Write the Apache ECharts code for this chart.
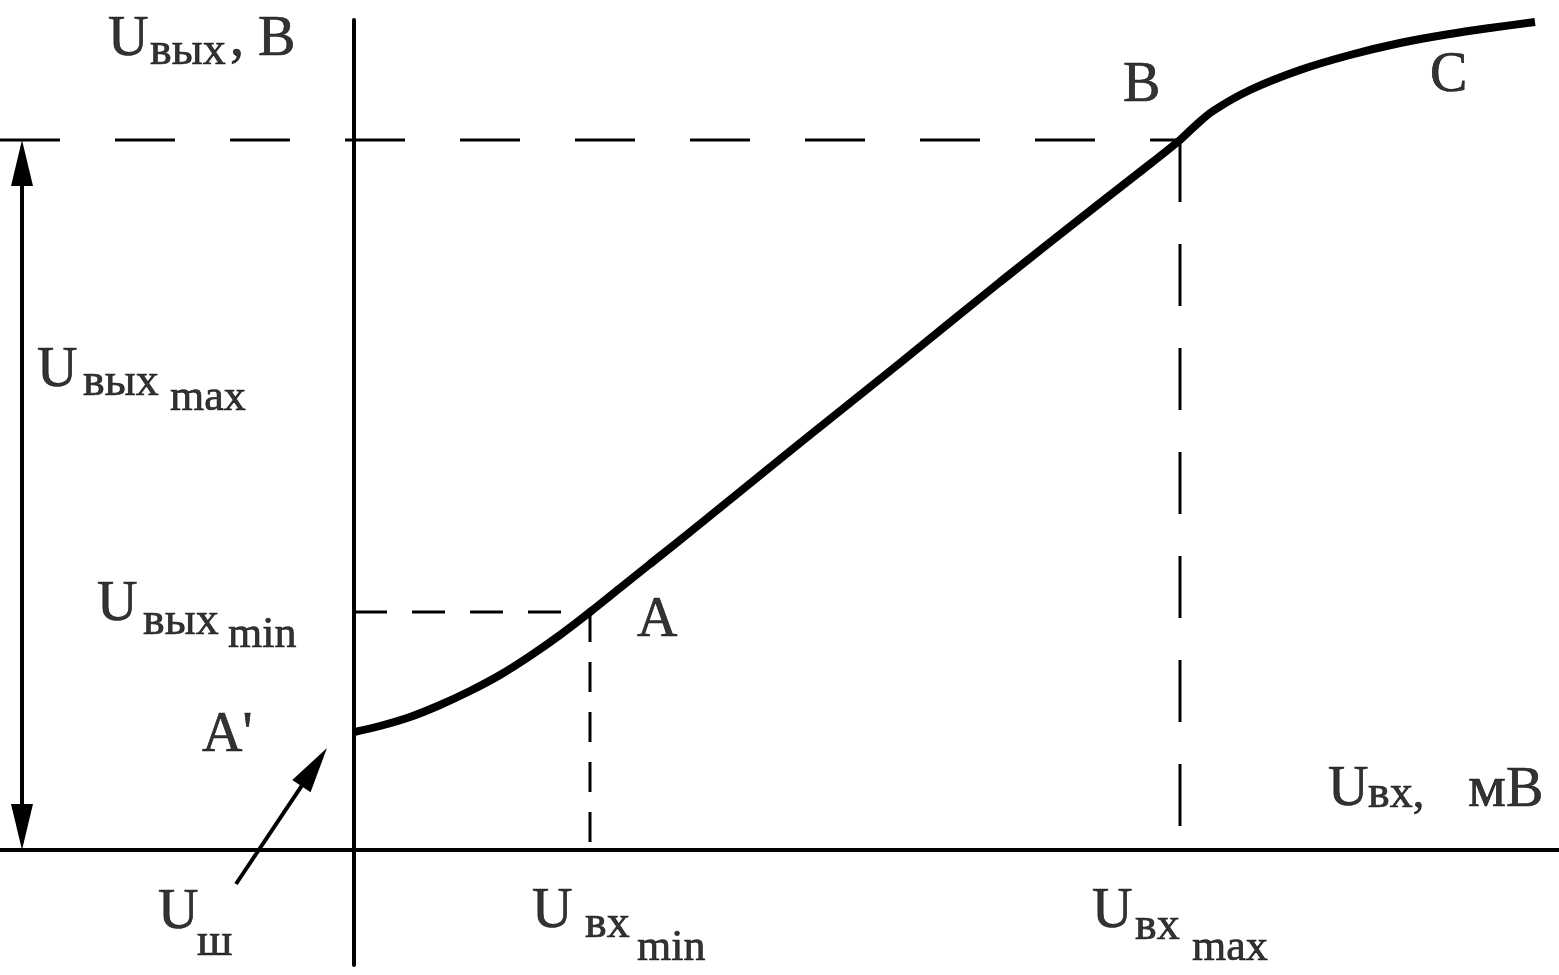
<!DOCTYPE html>
<html><head><meta charset="utf-8">
<script src="https://cdn.jsdelivr.net/npm/echarts@6/dist/echarts.min.js"></script>
<style>html,body{margin:0;padding:0;background:#fff}#c{width:1559px;height:975px}</style>
</head><body><div id="c"></div>
<script>
// Transfer characteristic (arbitrary units): input along x, output along y
const curveX = [0, 2.6, 5.6, 8.6, 11.6, 14.6, 17.6, 20.6, 23.6, 26.6, 29.6, 34.6, 44.6, 54.6, 64.6, 74.6, 79.6, 82.6, 84.1, 85.9, 89.6, 94.6, 99.6, 104.6, 109.6, 113.6, 118.1];
const curveY = [11.8, 12.4, 13.3, 14.5, 15.9, 17.5, 19.4, 21.5, 23.8, 26.2, 28.6, 32.6, 40.7, 48.7, 56.8, 64.7, 68.6, 71.0, 72.4, 73.9, 76.0, 78.0, 79.5, 80.7, 81.6, 82.2, 82.8];
// key levels
const uInMin = 23.6, uInMax = 82.6;
const uOutMin = 23.8, uOutMax = 71.0;
const uNoise = 11.8;
const xRange = [-35.4, 120.5];
const yRange = [-11.5, 83.0];

const FONT = 'Liberation Serif';
const BIG = 56, SUB = 46, IDX = 44;

// text pieces: [x, baselineY (data units), text, fontSize]
const texts = [
  [-24.6, 79.1, 'U', BIG], [-20.4, 78.3, 'вых', SUB], [-12.4, 79.1, ', В', BIG],
  [-31.7, 46.0, 'U', BIG], [-27.1, 45.2, 'вых', SUB], [-18.4, 43.7, 'max', IDX],
  [-25.7, 22.6, 'U', BIG], [-21.1, 21.3, 'вых', SUB], [-12.6, 20.0, 'min', IDX],
  [-15.2, 9.5, "A'", BIG],
  [-19.6, -8.2, 'U', BIG], [-15.7, -10.8, 'ш', SUB],
  [28.3, 21.0, 'A', BIG],
  [76.9, 74.5, 'B', BIG],
  [107.6, 75.5, 'C', BIG],
  [17.8, -8.1, 'U', BIG], [23.1, -9.0, 'вх', SUB], [28.3, -11.3, 'min', IDX],
  [73.8, -8.1, 'U', BIG], [78.1, -9.2, 'вх', SUB], [83.8, -11.3, 'max', IDX],
  [97.4, 4.1, 'U', BIG], [101.4, 4.0, 'вх,', SUB], [111.4, 4.0, 'м', 60], [115.2, 4.0, 'В', BIG]
];

const chart = echarts.init(document.getElementById('c'), null, {renderer: 'canvas'});

function dashSeries(pts, dash, w) {
  return {
    type: 'line', data: pts, symbol: 'none', silent: true, animation: false, z: 2,
    lineStyle: {color: '#000', width: w, type: dash}
  };
}

const curveData = curveX.map((x, i) => [x, curveY[i]]);

// arrow heads are centred on the line end, so end points sit half a head inside the tips
const HEAD = 2.3;
const ushDir = [9.1, 13.6];
const ushLen = Math.hypot(ushDir[0], ushDir[1]);
const ushTip = [-2.7, uNoise - 1.6];
const ushEnd = [ushTip[0] - HEAD * ushDir[0] / ushLen, ushTip[1] - HEAD * ushDir[1] / ushLen];
const ushTail = [ushTip[0] - ushDir[0], ushTip[1] - ushDir[1]];

const option = {
  animation: false,
  backgroundColor: '#fff',
  grid: {left: 0, right: 0, top: 20, bottom: 10, containLabel: false},
  xAxis: {
    type: 'value', min: xRange[0], max: xRange[1],
    axisLine: {show: true, onZero: true, lineStyle: {color: '#000', width: 4}},
    axisTick: {show: false}, axisLabel: {show: false}, splitLine: {show: false}
  },
  yAxis: {
    type: 'value', min: yRange[0], max: yRange[1],
    axisLine: {show: true, onZero: true, lineStyle: {color: '#000', width: 4}},
    axisTick: {show: false}, axisLabel: {show: false}, splitLine: {show: false}
  },
  series: [
    dashSeries([[xRange[0], uOutMax], [uInMax, uOutMax]], [60, 55], 3),
    dashSeries([[uInMax, uOutMax], [uInMax, 0]], [62, 42], 3),
    dashSeries([[0, uOutMin], [uInMin, uOutMin]], [33, 25], 3),
    dashSeries([[uInMin, uOutMin], [uInMin, 0]], [30, 20], 3),
    {
      type: 'line', data: curveData, symbol: 'none', smooth: 0.35,
      silent: true, z: 5, lineStyle: {color: '#000', width: 8}
    },
    {
      type: 'scatter', data: [], silent: true, symbolSize: 0,
      markLine: {
        silent: true, animation: false,
        symbol: ['triangle', 'triangle'], symbolSize: [22, 46],
        label: {show: false},
        lineStyle: {color: '#000', width: 4, type: 'solid'},
        itemStyle: {color: '#000'},
        data: [
          [{coord: [-33.2, uOutMax - HEAD]}, {coord: [-33.2, HEAD]}],
          [{coord: ushTail, symbol: 'none'}, {coord: ushEnd, symbol: 'triangle'}]
        ]
      }
    },
    {
      type: 'scatter', silent: true, symbolSize: 0, clip: false, z: 10,
      data: texts.map(t => ({
        value: [t[0], t[1]],
        label: {
          show: true, position: [0, 0], align: 'left', verticalAlign: 'middle',
          formatter: t[2], fontFamily: FONT, fontSize: t[3], color: '#000',
          textBorderColor: '#000', textBorderWidth: 0.7,
          offset: [0, -0.3375 * t[3]]
        }
      }))
    }
  ]
};
chart.setOption(option);
</script>
</body></html>
